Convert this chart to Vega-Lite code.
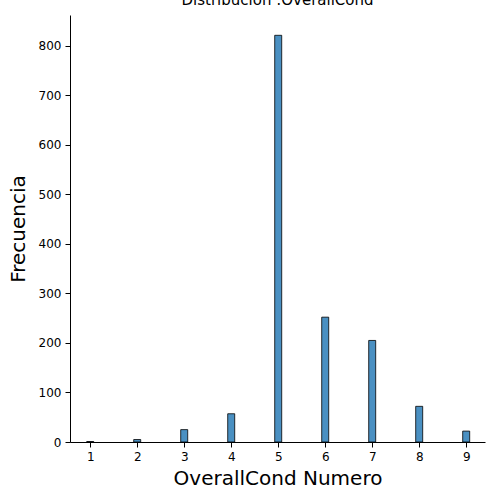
{
"$schema":"https://vega.github.io/schema/vega-lite/v6.json",
"width":415,"height":427,
"autosize":"none",
"padding":{"left":70,"top":15,"right":15,"bottom":58},
"title":{"text":"Distribución :OverallCond","fontSize":15,"font":"DejaVu Sans","fontWeight":"normal","offset":2,"dy":10,"baseline":"bottom","color":"#000"},
"config":{"view":{"stroke":null},"font":"DejaVu Sans"},
"data":{"values":[
{"c":1,"n":1},{"c":2,"n":5},{"c":3,"n":25},{"c":4,"n":57},{"c":5,"n":821},{"c":6,"n":252},{"c":7,"n":205},{"c":8,"n":72},{"c":9,"n":22}]},
"mark":{"type":"bar","size":7,"fill":"#4a90c2","stroke":"#000","strokeWidth":0.8},
"encoding":{
"x":{"field":"c","type":"quantitative","scale":{"domain":[0.57,9.4],"nice":false,"zero":false,"padding":0},
"axis":{"values":[1,2,3,4,5,6,7,8,9],"grid":false,"domainColor":"#000","tickColor":"#000","labelColor":"#000","labelFontSize":12,"title":"OverallCond Numero","titleFontSize":20,"titleFontWeight":"normal","titleColor":"#000","labelPadding":4,"titlePadding":6}},
"y":{"field":"n","type":"quantitative","scale":{"domain":[0,862],"nice":false},
"axis":{"values":[0,100,200,300,400,500,600,700,800],"grid":false,"domainColor":"#000","tickColor":"#000","labelColor":"#000","labelFontSize":12,"title":"Frecuencia","titleFontSize":20,"titleFontWeight":"normal","titleColor":"#000","labelPadding":4,"titlePadding":10}}
}
}
